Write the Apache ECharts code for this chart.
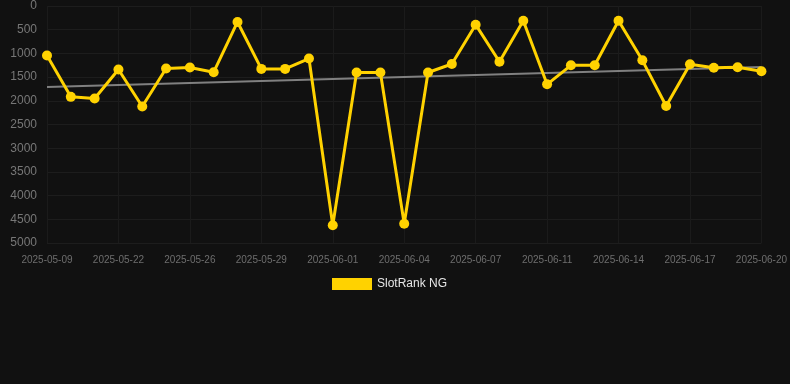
<!DOCTYPE html>
<html>
<head>
<meta charset="utf-8">
<script src="https://cdn.jsdelivr.net/npm/echarts@6/dist/echarts.min.js"></script>
<style>
html,body{margin:0;padding:0;background:#111111;}
#chart{width:790px;height:384px;}
</style>
</head>
<body>
<div id="chart"></div>
<script>
var dates = ['2025-05-09','2025-05-19','2025-05-20','2025-05-22','2025-05-23','2025-05-24',
	'2025-05-26','2025-05-27','2025-05-28','2025-05-29','2025-05-30','2025-05-31',
	'2025-06-01','2025-06-02','2025-06-03','2025-06-04','2025-06-05','2025-06-06',
	'2025-06-07','2025-06-09','2025-06-10','2025-06-11','2025-06-12','2025-06-13',
	'2025-06-14','2025-06-15','2025-06-16','2025-06-17','2025-06-18','2025-06-19','2025-06-20'];
var ranks = [1045,1917,1951,1340,2120,1319,1298,1397,337,1327,1327,1108,
	4627,1403,1403,4593,1403,1224,394,1175,310,1652,1251,1251,
	310,1146,2110,1230,1301,1294,1378];
var trendStart = 1707;
var trendEnd = 1287;

var trend = dates.map(function(d,i){
	if(i===0) return trendStart;
	if(i===dates.length-1) return trendEnd;
	return '-';
});

var chart = echarts.init(document.getElementById('chart'));
chart.setOption({
	backgroundColor:'#111111',
	animation:false,
	textStyle:{fontFamily:'Liberation Sans, Arial, sans-serif'},
	grid:{left:47,right:28,top:6,bottom:141,containLabel:false},
	legend:{
		data:['SlotRank NG'],
		top:278,
		left:332,
		padding:0,
		itemWidth:40,
		itemHeight:12,
		itemGap:6,
		icon:'rect',
		textStyle:{color:'#e6e6e6',fontSize:12}
	},
	xAxis:{
		type:'category',
		data:dates,
		boundaryGap:false,
		axisLine:{show:false},
		axisTick:{show:false},
		axisLabel:{color:'#6e6e6e',fontSize:10,interval:2,margin:12},
		splitLine:{show:true,interval:2,lineStyle:{color:'#1b1b1b',width:1}}
	},
	yAxis:{
		type:'value',
		inverse:true,
		min:0,
		max:5000,
		interval:500,
		axisLine:{show:false},
		axisTick:{show:false},
		axisLabel:{color:'#777777',fontSize:12,margin:10,formatter:function(v){return String(v);}},
		splitLine:{lineStyle:{color:'#1d1d1d',width:1}}
	},
	series:[
		{
			name:'Trend',
			type:'line',
			data:trend,
			connectNulls:true,
			symbol:'none',
			lineStyle:{color:'#808080',width:2},
			z:1
		},
		{
			name:'SlotRank NG',
			type:'line',
			data:ranks,
			symbol:'circle',
			symbolSize:10,
			itemStyle:{color:'#FFD200'},
			lineStyle:{color:'#FFD200',width:3},
			z:3
		}
	]
});
</script>
</body>
</html>
